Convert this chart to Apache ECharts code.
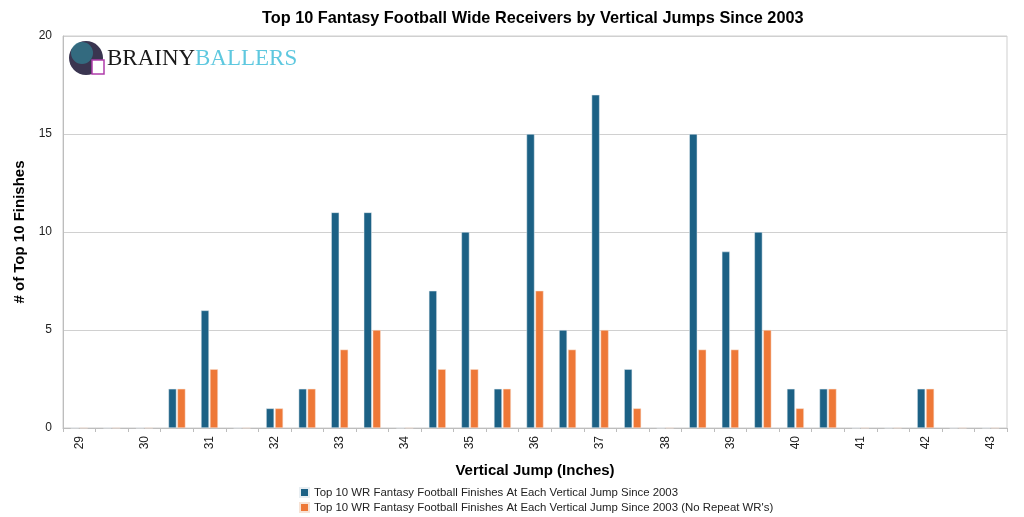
<!DOCTYPE html>
<html><head><meta charset="utf-8">
<script src="https://cdn.jsdelivr.net/npm/echarts@6/dist/echarts.min.js"></script>
<style>html,body{margin:0;padding:0;background:#fff}#c{width:1024px;height:517px}</style>
</head><body><div id="c"></div>
<script>
const categories = ['29','29.5','30','30.5','31','31.5','32','32.5','33','33.5','34','34.5','35','35.5','36','36.5','37','37.5','38','38.5','39','39.5','40','40.5','41','41.5','42','42.5','43'];
const allFinishes = [0,0,0,2,6,0,1,2,11,11,0,7,10,2,15,5,17,3,0,15,9,10,2,2,0,0,2,0,0];
const noRepeat    = [0,0,0,2,3,0,1,2,4,5,0,3,3,2,7,4,5,1,0,4,4,5,1,2,0,0,2,0,0];
const yTicks = [0,5,10,15,20];
const seriesNames = ['Top 10 WR Fantasy Football Finishes At Each Vertical Jump Since 2003','Top 10 WR Fantasy Football Finishes At Each Vertical Jump Since 2003 (No Repeat WR\'s)'];

const chart = echarts.init(document.getElementById('c'));
const font = 'Helvetica, Arial, "Liberation Sans", sans-serif';
const legendText = {fontSize:11.4,color:'#222',fontFamily:font};
chart.setOption({
  animation:false,
  textStyle:{fontFamily:font},
  title:{text:'Top 10 Fantasy Football Wide Receivers by Vertical Jumps Since 2003',left:257,top:6,
    textStyle:{fontSize:16.3,fontWeight:'bold',color:'#000',fontFamily:font}},
  grid:{left:63,right:17,top:36,bottom:89,show:true,borderColor:'#cfcfcf',borderWidth:1},
  legend:[
    {left:294,top:482,itemWidth:9,itemHeight:9,icon:'rect',textStyle:legendText,data:[seriesNames[0]]},
    {left:294,top:497,itemWidth:9,itemHeight:9,icon:'rect',textStyle:legendText,data:[seriesNames[1]]}
  ],
  xAxis:{type:'category',data:categories,boundaryGap:true,
    name:'Vertical Jump (Inches)',nameLocation:'middle',nameGap:35,
    nameTextStyle:{fontSize:15,fontWeight:'bold',color:'#000'},
    axisLine:{lineStyle:{color:'#bdbdbd'}},
    axisTick:{show:true,alignWithLabel:false,interval:0,length:4,lineStyle:{color:'#bdbdbd'}},
    axisLabel:{interval:1,rotate:90,fontSize:12,color:'#222',margin:8},
    splitLine:{show:false}},
  yAxis:{type:'value',min:yTicks[0],max:yTicks[yTicks.length-1],interval:5,
    name:'# of Top 10 Finishes',nameLocation:'middle',nameGap:27,
    nameTextStyle:{fontSize:15,fontWeight:'bold',color:'#000'},
    axisLine:{show:true,lineStyle:{color:'#bdbdbd'}},
    axisTick:{show:false},
    axisLabel:{fontSize:12,color:'#222',margin:11},
    splitLine:{lineStyle:{color:'#d0d0d0'}}},
  series:[
    {name:seriesNames[0],type:'bar',data:allFinishes,barWidth:8,barGap:'12%',
     itemStyle:{color:'#1c6185',borderColor:'#e8eef2',borderWidth:0.5}},
    {name:seriesNames[1],type:'bar',data:noRepeat,barWidth:8,barGap:'12%',
     itemStyle:{color:'#ee7837',borderColor:'#f7e3d6',borderWidth:0.5}}
  ],
  graphic:[
    {type:'circle',shape:{cx:86,cy:58,r:17},style:{fill:'#3a3550'}},
    {type:'circle',shape:{cx:82,cy:53,r:11},style:{fill:'#2f8d9e',opacity:0.6}},
    {type:'rect',shape:{x:92,y:60,width:12,height:14},style:{fill:'#ffffff',stroke:'#b03cab',lineWidth:1.5}},
    {type:'text',left:107,top:47,style:{text:'BRAINY',font:'23px "Liberation Serif", "DejaVu Serif", serif',fill:'#1a1a1a'}},
    {type:'text',left:195,top:47,style:{text:'BALLERS',font:'23px "Liberation Serif", "DejaVu Serif", serif',fill:'#5ec8df'}}
  ]
});
</script></body></html>
